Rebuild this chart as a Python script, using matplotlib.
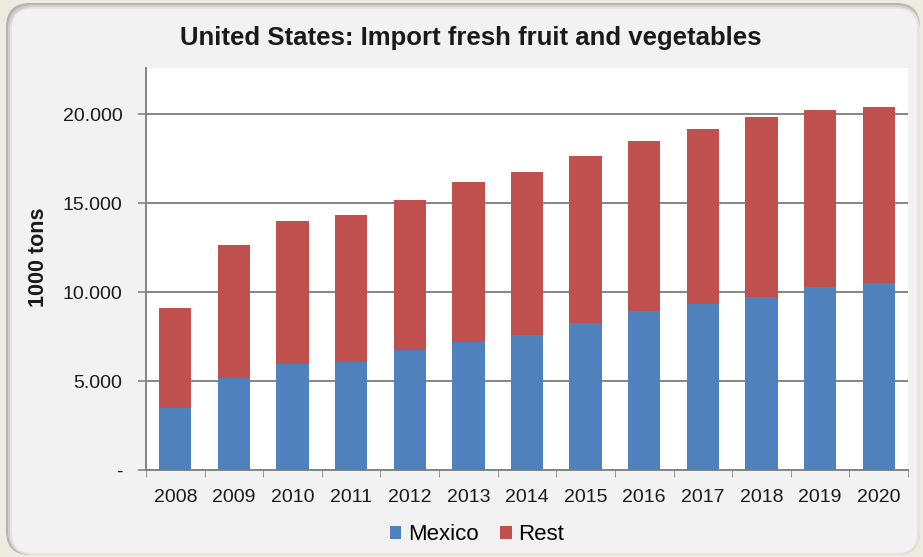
import matplotlib.pyplot as plt
from matplotlib.patches import FancyBboxPatch
from matplotlib.ticker import FuncFormatter, FixedLocator

plt.rcParams['font.family'] = ['Liberation Sans', 'DejaVu Sans']

years = ['2008', '2009', '2010', '2011', '2012', '2013', '2014',
         '2015', '2016', '2017', '2018', '2019', '2020']
# 1000 tons
mexico = [3470, 5150, 5960, 6090, 6740, 7210, 7580,
          8280, 8930, 9360, 9700, 10260, 10490]
total = [9080, 12640, 14000, 14340, 15200, 16180, 16760,
         17640, 18520, 19180, 19830, 20240, 20430]
rest = [t - m for t, m in zip(total, mexico)]

blue = '#4f81bd'
red = '#c0504d'
text_col = '#1a1a1a'
grid_col = '#858585'

W, H = 923, 557
fig = plt.figure(figsize=(W / 100, H / 100), dpi=100)
fig.patch.set_facecolor('#eeece1')

# background frame drawn in pixel units
bg = fig.add_axes([0, 0, 1, 1], zorder=-1)
bg.set_xlim(0, W)
bg.set_ylim(H, 0)
bg.axis('off')
for off, col in [(0, '#b4b4b4'), (2, '#cfcfcf'), (4, '#e4e4e4')]:
    bg.add_patch(FancyBboxPatch((6 + off, 3 + off), 914 - off, 552 - off,
                                boxstyle='round,pad=0,rounding_size=24',
                                facecolor=col, edgecolor='none'))
bg.add_patch(FancyBboxPatch((12, 9), 905, 544,
                            boxstyle='round,pad=0,rounding_size=20',
                            facecolor='#f2f2f2', edgecolor='none'))

ax = fig.add_axes([146 / W, 1 - 470 / H, 762 / W, 402 / H])
ax.set_facecolor('white')

x = range(len(years))
ax.bar(x, mexico, width=0.55, color=blue, label='Mexico', zorder=3)
ax.bar(x, rest, width=0.55, bottom=mexico, color=red, label='Rest', zorder=3)

ax.set_xlim(-0.5, len(years) - 0.5)
ax.set_ylim(0, 22600)
ax.set_yticks([0, 5000, 10000, 15000, 20000])
ax.yaxis.set_major_formatter(FuncFormatter(
    lambda v, p: '-' if v == 0 else f'{int(v):,}'.replace(',', '.')))
ax.grid(axis='y', color=grid_col, linewidth=1.4, zorder=1)

ax.set_xticks(list(x))
ax.set_xticklabels(years)
ax.xaxis.set_minor_locator(FixedLocator([i - 0.5 for i in range(len(years) + 1)]))
ax.tick_params(axis='x', which='major', length=0, pad=14, labelsize=14,
               labelcolor=text_col)
ax.tick_params(axis='x', which='minor', length=5, color=grid_col, direction='out')
ax.tick_params(axis='y', length=6, width=1.2, color=grid_col, pad=11,
               labelsize=14, labelcolor=text_col)

for side in ['top', 'right']:
    ax.spines[side].set_visible(False)
for side in ['left', 'bottom']:
    ax.spines[side].set_color(grid_col)
    ax.spines[side].set_linewidth(1.4)

ax.set_ylabel('1000 tons', fontsize=15.5, fontweight='bold', color=text_col)
ax.yaxis.set_label_coords(-(146 - 49) / 762, 0.53)
fig.text(471 / W, 1 - 38 / H, 'United States: Import fresh fruit and vegetables',
         ha='center', va='center', fontsize=18.5, fontweight='bold',
         color=text_col)

ax.legend(loc='center', bbox_to_anchor=((477 - 146) / 762, -(535 - 470) / 402),
          ncol=2, frameon=False, fontsize=16, handlelength=0.5,
          handleheight=0.5, handletextpad=0.3, columnspacing=1.0)

fig.savefig('out.png', dpi=100, facecolor=fig.get_facecolor())
